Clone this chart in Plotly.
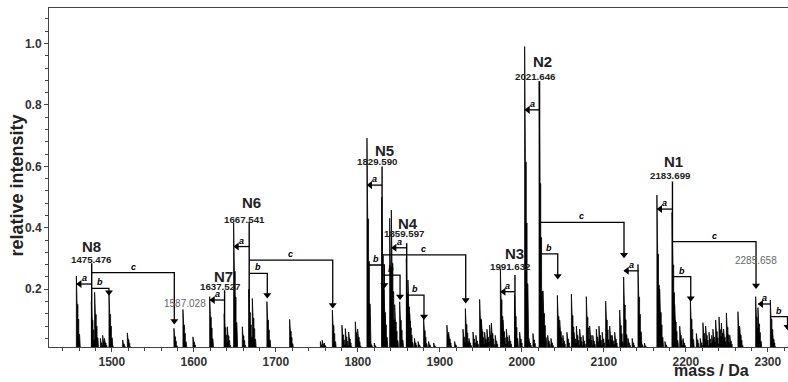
import plotly.graph_objects as go

# ---------------- data ----------------
PEAK_MASS = [
    1457.2, 1475.5, 1479.5, 1486.5, 1489.3, 1491.5, 1497.0, 1499.5, 1513.7, 1519.4,
    1576.2, 1587.2, 1599.4,
    1619.8, 1637.5, 1641.3, 1649.0, 1659.6, 1667.5, 1671.8, 1689.6, 1717.3,
    1754.8, 1757.0, 1759.5, 1769.4, 1781.1, 1785.2, 1789.3, 1797.4, 1800.2,
    1811.6, 1815.7, 1820.5, 1829.6, 1832.3, 1839.3, 1841.3, 1845.4, 1851.5, 1859.6,
    1861.6, 1863.7, 1869.5, 1874.0, 1880.7, 1886.8, 1893.0, 1909.1, 1911.2, 1918.5,
    1928.7, 1931.6, 1936.0, 1940.9, 1944.5, 1949.0, 1951.1, 1955.1, 1957.9, 1961.2,
    1963.3, 1968.0, 1974.3, 1977.4, 1981.6, 1985.0, 1991.6, 1997.8, 2003.9, 2009.0,
    2014.0, 2021.6, 2026.2, 2032.0, 2036.0, 2043.8, 2046.6, 2050.5, 2055.5, 2060.9,
    2064.0, 2067.0, 2071.0, 2075.0, 2079.1, 2083.2, 2087.0, 2091.3, 2094.5, 2098.5,
    2102.7, 2107.6, 2110.5, 2113.7, 2119.8, 2124.6, 2130.0, 2135.0, 2142.1, 2146.0,
    2150.0, 2165.2, 2168.5, 2175.0, 2183.7, 2186.8, 2193.0, 2197.0, 2206.0, 2213.3,
    2218.0, 2221.3, 2224.6, 2228.7, 2232.0, 2233.5, 2236.8, 2240.9, 2243.8, 2246.5,
    2249.9, 2254.0, 2264.0, 2266.0, 2285.6, 2288.4, 2303.5, 2306.0,
]
PEAK_HEIGHT = [
    0.243, 0.160, 0.190, 0.040, 0.050, 0.040, 0.190, 0.030, 0.035, 0.058,
    0.073, 0.134, 0.045,
    0.176, 0.120, 0.078, 0.416, 0.078, 0.200, 0.170, 0.160, 0.102,
    0.030, 0.034, 0.025, 0.132, 0.083, 0.072, 0.061, 0.094, 0.070,
    0.692, 0.030, 0.025, 0.500, 0.200, 0.431, 0.458, 0.150, 0.159, 0.300,
    0.230, 0.120, 0.040, 0.030, 0.105, 0.030, 0.025, 0.083, 0.060, 0.030,
    0.070, 0.137, 0.040, 0.061, 0.050, 0.167, 0.100, 0.060, 0.070, 0.083,
    0.090, 0.050, 0.267, 0.100, 0.070, 0.050, 0.180, 0.060, 0.990, 0.040,
    0.056, 0.877, 0.195, 0.050, 0.040, 0.180, 0.100, 0.050, 0.060, 0.184,
    0.060, 0.080, 0.070, 0.050, 0.176, 0.080, 0.050, 0.070, 0.080, 0.060,
    0.161, 0.080, 0.050, 0.060, 0.132, 0.240, 0.040, 0.040, 0.281, 0.030,
    0.025, 0.507, 0.200, 0.030, 0.450, 0.150, 0.080, 0.040, 0.165, 0.056,
    0.040, 0.091, 0.080, 0.060, 0.050, 0.070, 0.100, 0.110, 0.090, 0.070,
    0.123, 0.050, 0.127, 0.080, 0.176, 0.140, 0.165, 0.060,
]

PARENT_NAME = ["N8", "N7", "N6", "N5", "N4", "N3", "N2", "N1"]
PARENT_MASS = [1475.476, 1637.527, 1667.541, 1829.590, 1859.597, 1991.632, 2021.646, 2183.699]
PARENT_LABEL = ["1475.476", "1637.527", "1667.541", "1829.590", "1859.597", "1991.632", "2021.646", "2183.699"]
PARENT_STEM_TOP = [0.285, 0.197, 0.420, 0.600, 0.350, 0.246, 0.877, 0.551]
# label placement (mass, intensity) for the number and for the N name
NUM_POS_X = [1475.0, 1632.0, 1662.4, 1823.8, 1856.3, 1985.6, 2016.1, 2180.7]
NUM_POS_Y = [0.2975, 0.2083, 0.4287, 0.6152, 0.3822, 0.2734, 0.8920, 0.5697]
NAME_POS_X = [1475.5, 1636.0, 1670.6, 1832.0, 1861.6, 1990.5, 2025.5, 2184.8]
NAME_POS_Y = [0.3376, 0.2409, 0.4818, 0.6533, 0.4147, 0.3170, 0.9408, 0.6152]

GRAY_LABEL = ["1587.028", "2285.658"]
GRAY_POS_X = [1589.3, 2285.2]
GRAY_POS_Y = [0.1543, 0.2930]

# fragment-loss brackets: from, to, level, arrow end (None = left arrow), letter
BR_FROM = [1475.5, 1475.5, 1475.5, 1637.5, 1667.5, 1667.5, 1667.5,
           1829.6, 1829.6, 1829.6, 1811.6, 1859.6, 1859.6, 1991.6,
           2021.6, 2021.6, 2021.6, 2142.1, 2183.7, 2183.7, 2183.7, 2303.5, 2303.5]
BR_TO = [1457.2, 1496.5, 1576.2, 1619.8, 1649.0, 1689.6, 1769.4,
         1811.6, 1851.5, 1931.6, 1832.3, 1841.3, 1880.7, 1974.3,
         2003.9, 2043.8, 2124.6, 2124.6, 2165.2, 2206.0, 2285.6, 2288.4, 2324.0]
BR_LEVEL = [0.217, 0.203, 0.254, 0.165, 0.339, 0.252, 0.295,
            0.539, 0.246, 0.312, 0.279, 0.335, 0.181, 0.192,
            0.784, 0.315, 0.418, 0.260, 0.461, 0.241, 0.355, 0.152, 0.111]
BR_END = [None, 0.190, 0.097, None, None, 0.181, 0.149,
          None, 0.176, 0.165, 0.214, None, 0.111, None,
          None, 0.243, 0.312, None, None, 0.171, 0.212, None, 0.078]
BR_LETTER = ["a", "b", "c", "a", "a", "b", "c",
             "a", "b", "c", "b", "a", "b", "a",
             "a", "b", "c", "a", "a", "b", "c", "a", "b"]

X_RANGE = [1423.4, 2324.6]
Y_RANGE = [0.012, 1.1156]

FONT = "Liberation Sans, Arial, sans-serif"

# ---------------- figure ----------------
fig = go.Figure()

# peak shapes (stick + isotope shoulder)
PROFILE_DX = [-0.45, -0.45, 0.45, 0.45, 1.5, 1.5, 2.5, 2.5, 3.5, 3.5, 4.5]
PROFILE_H = [0, 1, 1, 0.62, 0.62, 0.42, 0.42, 0.22, 0.22, 0.08, 0]
px, py = [], []
for m, h in zip(PEAK_MASS, PEAK_HEIGHT):
    for dx, f in zip(PROFILE_DX, PROFILE_H):
        px.append(m + dx)
        py.append(h * f)
    px.append(None)
    py.append(None)
fig.add_trace(go.Scatter(x=px, y=py, mode="lines", fill="toself",
                         fillcolor="black", line=dict(color="black", width=0.8),
                         hoverinfo="skip", showlegend=False))

# parent stems
sx, sy = [], []
for m, top in zip(PARENT_MASS, PARENT_STEM_TOP):
    sx += [m, m, None]
    sy += [top, 0, None]
fig.add_trace(go.Scatter(x=sx, y=sy, mode="lines", line=dict(color="black", width=1.4),
                         hoverinfo="skip", showlegend=False))

# brackets
bx, by = [], []
ax_, ay_, asym = [], [], []
for f, t, lv, e, let in zip(BR_FROM, BR_TO, BR_LEVEL, BR_END, BR_LETTER):
    if e is None:
        bx += [f, t, None]
        by += [lv, lv, None]
        ax_.append(t + 3.6)
        ay_.append(lv)
        asym.append("triangle-left")
    else:
        bx += [f, t, t, None]
        by += [lv, lv, e, None]
        ax_.append(t)
        ay_.append(e)
        asym.append("triangle-down")
    fig.add_annotation(x=(f + t) / 2, y=lv, text=let, showarrow=False,
                       xanchor="center", yanchor="bottom", yshift=-1,
                       font=dict(family=FONT, size=9, color="black", style="italic", weight="bold"))
fig.add_trace(go.Scatter(x=bx, y=by, mode="lines", line=dict(color="black", width=1.3),
                         hoverinfo="skip", showlegend=False))
fig.add_trace(go.Scatter(x=ax_, y=ay_, mode="markers", cliponaxis=False,
                         marker=dict(symbol=asym, size=7, color="black", line=dict(width=0)),
                         hoverinfo="skip", showlegend=False))

# parent labels
for name, lab, nx, ny, mx, my in zip(PARENT_NAME, PARENT_LABEL, NAME_POS_X, NAME_POS_Y, NUM_POS_X, NUM_POS_Y):
    fig.add_annotation(x=nx, y=ny, text=name, showarrow=False,
                       xanchor="center", yanchor="middle",
                       font=dict(family=FONT, size=15, color="#222", weight="bold"))
    fig.add_annotation(x=mx, y=my, text=lab, showarrow=False,
                       xanchor="center", yanchor="middle",
                       font=dict(family=FONT, size=9.7, color="#222", weight="bold"))
for lab, gx, gy in zip(GRAY_LABEL, GRAY_POS_X, GRAY_POS_Y):
    fig.add_annotation(x=gx, y=gy, text=lab, showarrow=False,
                       xanchor="center", yanchor="middle",
                       font=dict(family=FONT, size=10, color="#666"))

# axis titles as annotations
fig.add_annotation(x=0.896, y=-0.068, xref="paper", yref="paper", text="mass / Da",
                   xanchor="center", yanchor="middle",
                   showarrow=False, font=dict(family=FONT, size=16, color="#222", weight="bold"))
fig.add_annotation(x=-0.043, y=0.477, xref="paper", yref="paper", text="relative intensity",
                   xanchor="center", yanchor="middle",
                   textangle=-90, showarrow=False,
                   font=dict(family=FONT, size=18, color="#222", weight="bold"))

fig.update_layout(
    width=788, height=382,
    margin=dict(l=49, r=0, t=8, b=35),
    paper_bgcolor="white", plot_bgcolor="white",
    showlegend=False,
    xaxis=dict(range=X_RANGE, showgrid=False, zeroline=False,
               showline=True, linecolor="#444", linewidth=1, mirror=True,
               ticks="outside", ticklen=4, tickcolor="#444", dtick=100, tick0=1500,
               minor=dict(dtick=20, ticklen=3, tickcolor="#444", ticks="outside"),
               tickfont=dict(family=FONT, size=12, color="#333", weight="bold")),
    yaxis=dict(range=Y_RANGE, showgrid=False, zeroline=False,
               showline=True, linecolor="#444", linewidth=1,
               ticks="outside", ticklen=4, tickcolor="#444", dtick=0.2, tick0=0,
               tickformat=".1f",
               minor=dict(dtick=0.04, ticklen=3, tickcolor="#444", ticks="outside"),
               tickfont=dict(family=FONT, size=12, color="#333", weight="bold")),
)

fig.write_html("out.html")
